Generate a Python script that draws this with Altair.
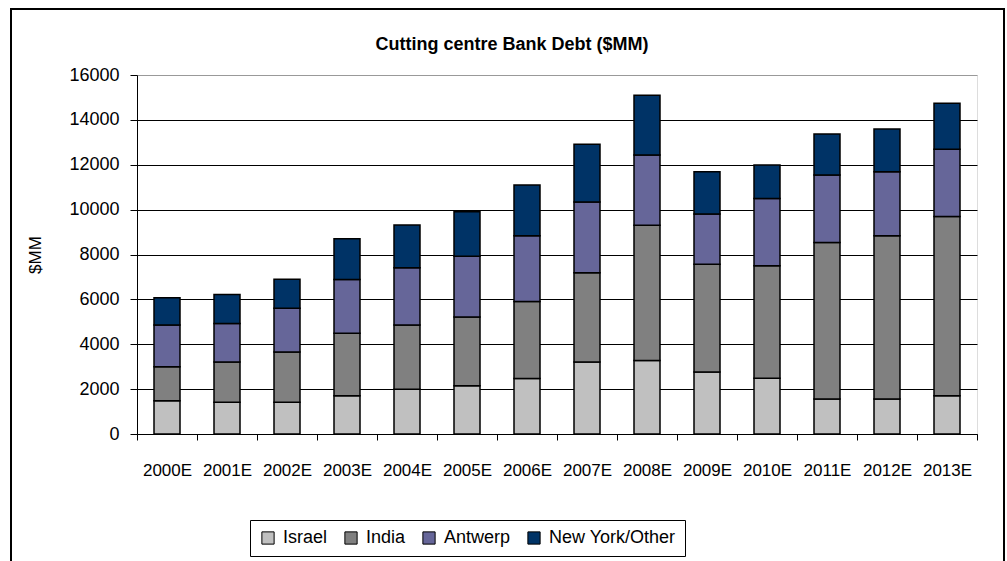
import altair as alt
import pandas as pd

years = ["2000E", "2001E", "2002E", "2003E", "2004E", "2005E", "2006E",
         "2007E", "2008E", "2009E", "2010E", "2011E", "2012E", "2013E"]
series = ["Israel", "India", "Antwerp", "New York/Other"]
colors = ["#C0C0C0", "#808080", "#666699", "#003366"]

israel = [1480, 1410, 1410, 1710, 2000, 2150, 2470, 3210, 3280, 2760, 2480, 1560, 1560, 1710]
india = [1520, 1800, 2240, 2780, 2860, 3070, 3440, 3980, 6020, 4810, 5020, 6980, 7280, 7980]
antwerp = [1860, 1720, 1960, 2400, 2550, 2700, 2930, 3150, 3130, 2230, 3000, 3000, 2850, 3000]
newyork = [1215, 1290, 1290, 1810, 1900, 1980, 2260, 2570, 2670, 1890, 1490, 1830, 1900, 2050]

rows = []
for s_i, (name, vals) in enumerate(zip(series, [israel, india, antwerp, newyork])):
    for y, v in zip(years, vals):
        rows.append({"year": y, "series": name, "value": v, "idx": s_i})
df = pd.DataFrame(rows)

FONT = "Liberation Sans"

bars = alt.Chart(df).mark_bar(size=26, stroke="black", strokeWidth=1.5).encode(
    x=alt.X("year:N", sort=years,
            scale=alt.Scale(paddingInner=0, paddingOuter=0),
            axis=alt.Axis(title=None, labelAngle=0, labelFontSize=17, labelFont=FONT,
                          labelColor="black", tickBand="extent", tickSize=6,
                          tickColor="black", domainColor="black", labelPadding=22,
                          grid=False)),
    y=alt.Y("value:Q", stack="zero",
            scale=alt.Scale(domain=[0, 16000]),
            axis=alt.Axis(title="$MM", values=list(range(0, 16001, 2000)),
                          labelFontSize=18, labelFont=FONT, labelColor="black",
                          titleFont=FONT, titleFontSize=17, titleFontWeight="normal",
                          titleColor="black", titlePadding=24,
                          tickSize=7, tickColor="black", domainColor="black",
                          labelPadding=11, grid=True,
                          gridColor=alt.condition("datum.value == 16000",
                                                  alt.value("#999999"),
                                                  alt.value("black")),
                          gridOpacity=1, format="d")),
    color=alt.Color("series:N", sort=series,
                    scale=alt.Scale(domain=series, range=colors),
                    legend=alt.Legend(title=None, orient="none", direction="horizontal",
                                      legendX=113, legendY=445,
                                      labelFont=FONT, labelFontSize=18, labelColor="black",
                                      symbolType="square", symbolSize=150,
                                      symbolStrokeColor="black", symbolStrokeWidth=1,
                                      strokeColor="black", padding=9,
                                      columnPadding=14, labelOffset=6)),
    order=alt.Order("idx:Q", sort="ascending"),
)

border = alt.Chart(pd.DataFrame({"a": [0]})).mark_rect(
    fill=None, stroke="black", strokeWidth=2
).encode(
    x=alt.value(-126), x2=alt.value(867),
    y=alt.value(-66), y2=alt.value(500),
)

chart = alt.layer(bars, border).properties(
    width=840, height=359,
    title=alt.TitleParams("Cutting centre Bank Debt ($MM)", font=FONT, fontSize=18,
                          fontWeight="bold", color="black", anchor="middle",
                          frame="group", dx=-45, offset=-46),
    padding={"left": 137, "top": 75, "right": 30, "bottom": 127},
    autosize=alt.AutoSizeParams(type="none"),
).configure_view(stroke="#999999", strokeWidth=2).configure(background="white")

chart.save("out.html", embed_options={"renderer": "svg", "actions": False})
